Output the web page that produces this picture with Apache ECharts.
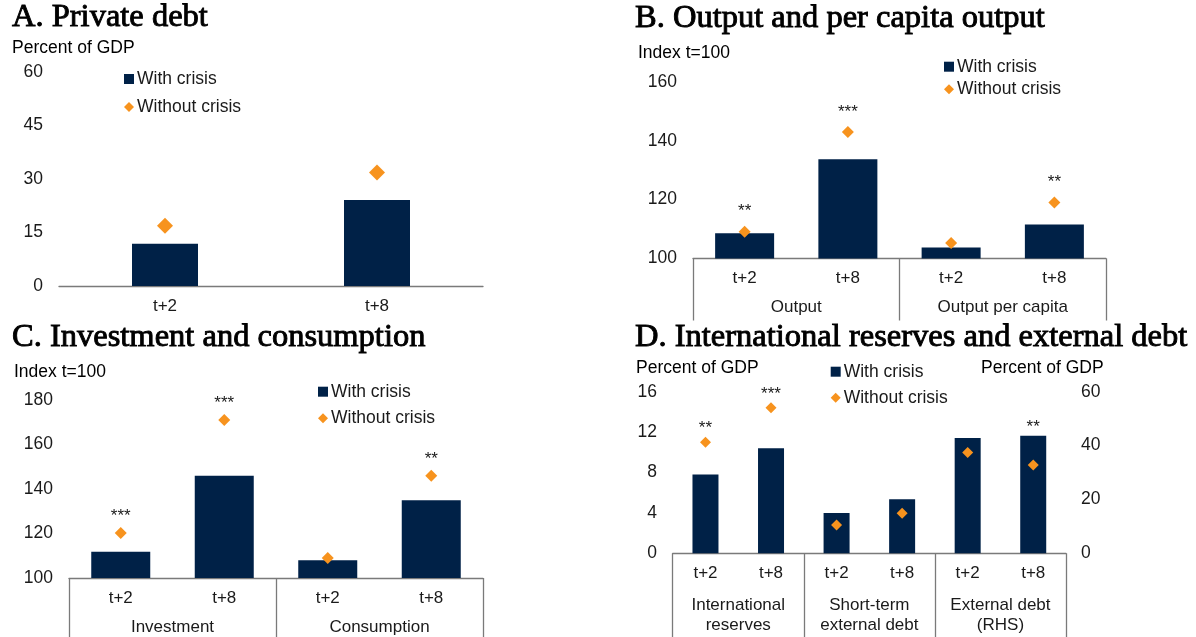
<!DOCTYPE html>
<html>
<head>
<meta charset="utf-8">
<script src="https://cdn.jsdelivr.net/npm/echarts@6/dist/echarts.min.js"></script>
<style>
html,body{margin:0;padding:0;background:#fff;}
#c{width:1196px;height:637px;}
</style>
</head>
<body>
<div id="c"></div>
<script>
// ---------- data ----------
const titles = ['A. Private debt', 'B. Output and per capita output', 'C. Investment and consumption', 'D. International reserves and external debt'];
const legendNames = ['With crisis', 'Without crisis'];

// Panel A
const catsA = ['t+2', 't+8'];
const withA = [11.8, 24.1];
const withoutA = [16.9, 31.8];
const ticksA = {min: 0, max: 60, interval: 15};

// Panel B
const catsB = ['t+2', 't+8', 't+2', 't+8'];
const groupsB = ['Output', 'Output per capita'];
const withB = [108.6, 133.7, 103.7, 111.6];
const withoutB = [109.1, 143.0, 105.3, 119.0];
const starsB = ['**', '***', '', '**'];
const ticksB = {min: 100, max: 160, interval: 20};

// Panel C
const catsC = ['t+2', 't+8', 't+2', 't+8'];
const groupsC = ['Investment', 'Consumption'];
const withC = [111.8, 146.0, 108.0, 134.9];
const withoutC = [120.2, 171.0, 109.0, 146.0];
const starsC = ['***', '***', '', '**'];
const ticksC = {min: 100, max: 180, interval: 20};

// Panel D
const catsD = ['t+2', 't+8', 't+2', 't+8', 't+2', 't+8'];
const groupsD = ['International\nreserves', 'Short-term\nexternal debt', 'External debt\n(RHS)'];
const withD = [7.8, 10.4, 4.0, 5.35, 42.8, 43.6];
const withoutD = [11.0, 14.4, 2.8, 3.96, 37.4, 32.8];
const rhsD = [false, false, false, false, true, true];
const starsWithoutD = ['**', '***', '', '', '', ''];
const starsWithD = ['', '', '', '', '', '**'];
const ticksDL = {min: 0, max: 16, interval: 4};
const ticksDR = {min: 0, max: 60, interval: 20};

// ---------- styles ----------
const NAVY = '#002147';
const ORANGE = '#F7931E';
const AXIS = '#7a7a7a';
const TXT = '#1a1a1a';
const SANS = 'Liberation Sans, Arial, sans-serif';
const SERIF = 'Liberation Serif, Times New Roman, serif';

function lhs(arr) { return arr.map((v, i) => rhsD[i] ? '-' : v); }
function rhs(arr) { return arr.map((v, i) => rhsD[i] ? v : '-'); }

function catAxis(gi, data) {
  return {
    type: 'category', gridIndex: gi, data: data, position: 'bottom',
    axisLine: {show: true, onZero: false, lineStyle: {color: AXIS, width: 1.3}},
    axisTick: {show: false},
    axisLabel: {interval: 0, margin: 11, fontSize: 17, lineHeight: 18, color: TXT, fontFamily: SANS},
    splitLine: {show: false}
  };
}
function groupAxis(gi, data, len, margin, lh) {
  return {
    type: 'category', gridIndex: gi, data: data, position: 'bottom',
    axisLine: {show: false},
    axisTick: {show: true, length: len, interval: 0, lineStyle: {color: AXIS, width: 1.3}},
    axisLabel: {interval: 0, margin: margin, fontSize: 17, lineHeight: lh, color: TXT, fontFamily: SANS},
    splitLine: {show: false}
  };
}
function valAxis(gi, t, pos, margin) {
  return {
    type: 'value', gridIndex: gi, position: pos, min: t.min, max: t.max, interval: t.interval,
    axisLine: {show: false}, axisTick: {show: false}, splitLine: {show: false},
    axisLabel: {margin: margin, fontSize: 17.5, color: TXT, fontFamily: SANS}
  };
}
function bar(xi, yi, data, width, stars, dist) {
  const s = {
    type: 'bar', name: legendNames[0], xAxisIndex: xi, yAxisIndex: yi, data: data,
    barWidth: width, barGap: '-100%', itemStyle: {color: NAVY}, z: 2,
    emphasis: {disabled: true}
  };
  if (stars) {
    s.label = {show: true, position: 'top', distance: dist, fontSize: 17, color: TXT, fontFamily: SANS,
      formatter: p => stars[p.dataIndex]};
  }
  return s;
}
function dia(xi, yi, data, size, stars, dist) {
  const s = {
    type: 'scatter', name: legendNames[1], xAxisIndex: xi, yAxisIndex: yi, data: data,
    symbol: 'diamond', symbolSize: size, itemStyle: {color: ORANGE, opacity: 1}, z: 3,
    emphasis: {disabled: true}
  };
  if (stars) {
    s.label = {show: true, position: 'top', distance: dist, fontSize: 17, color: TXT, fontFamily: SANS,
      formatter: p => stars[p.dataIndex]};
  }
  return s;
}
function legend(left, top, gap) {
  return {
    left: left, top: top, padding: 0, orient: 'vertical', itemGap: gap, itemWidth: 10, itemHeight: 10,
    selectedMode: false,
    textStyle: {fontSize: 17.5, lineHeight: 18, color: TXT, fontFamily: SANS, padding: [0, 0, 0, -2]},
    data: [{name: legendNames[0], icon: 'rect'}, {name: legendNames[1], icon: 'diamond'}]
  };
}
function txt(x, y, s, font, bold) {
  return {
    type: 'text', x: x, y: y, silent: true,
    style: Object.assign({text: s, font: font, fill: '#000', align: 'left', verticalAlign: 'middle'},
      bold ? {stroke: '#000', lineWidth: 0.9} : {})
  };
}

const option = {
  animation: false,
  textStyle: {fontFamily: SANS},
  grid: [
    {left: 59, top: 71.7, width: 424, height: 214.3},
    {left: 693, top: 82, width: 413, height: 176.5},
    {left: 69, top: 400, width: 414, height: 178},
    {left: 672.7, top: 391.7, width: 393.3, height: 161.6}
  ],
  xAxis: [
    catAxis(0, catsA),
    catAxis(1, catsB), groupAxis(1, groupsB, 62, 40, 18),
    catAxis(2, catsC), groupAxis(2, groupsC, 60, 40, 18),
    catAxis(3, catsD), groupAxis(3, groupsD, 84, 42, 20)
  ],
  yAxis: [
    valAxis(0, ticksA, 'left', 16),
    valAxis(1, ticksB, 'left', 16),
    valAxis(2, ticksC, 'left', 16),
    valAxis(3, ticksDL, 'left', 15.7),
    valAxis(3, ticksDR, 'right', 15)
  ],
  legend: [
    legend(124, 70, 10),
    legend(944, 57.7, 4.6),
    legend(318, 382.7, 8.6),
    legend(830.7, 362.7, 8)
  ],
  series: [
    bar(0, 0, withA, 66), dia(0, 0, withoutA, 16),
    bar(1, 1, withB, 59), dia(1, 1, withoutB, 12, starsB, 5.5),
    bar(3, 2, withC, 59), dia(3, 2, withoutC, 12, starsC, 2),
    bar(5, 3, lhs(withD), 26), bar(5, 4, rhs(withD), 26, starsWithD, 0.5),
    dia(5, 3, lhs(withoutD), 11, starsWithoutD, -0.5), dia(5, 4, rhs(withoutD), 11)
  ],
  graphic: [
    txt(12, 17.5, titles[0], '32.5px ' + SERIF, true),
    txt(635, 18, titles[1], '32.5px ' + SERIF, true),
    txt(12, 337, titles[2], '32.5px ' + SERIF, true),
    txt(635, 337, titles[3], '32.5px ' + SERIF, true),
    txt(12, 48, 'Percent of GDP', '17.5px ' + SANS),
    txt(638, 53, 'Index t=100', '17.5px ' + SANS),
    txt(14, 372, 'Index t=100', '17.5px ' + SANS),
    txt(636, 368, 'Percent of GDP', '17.5px ' + SANS),
    txt(981, 368, 'Percent of GDP', '17.5px ' + SANS)
  ]
};

const chart = echarts.init(document.getElementById('c'), null, {renderer: 'canvas'});
chart.setOption(option);
</script>
</body>
</html>
